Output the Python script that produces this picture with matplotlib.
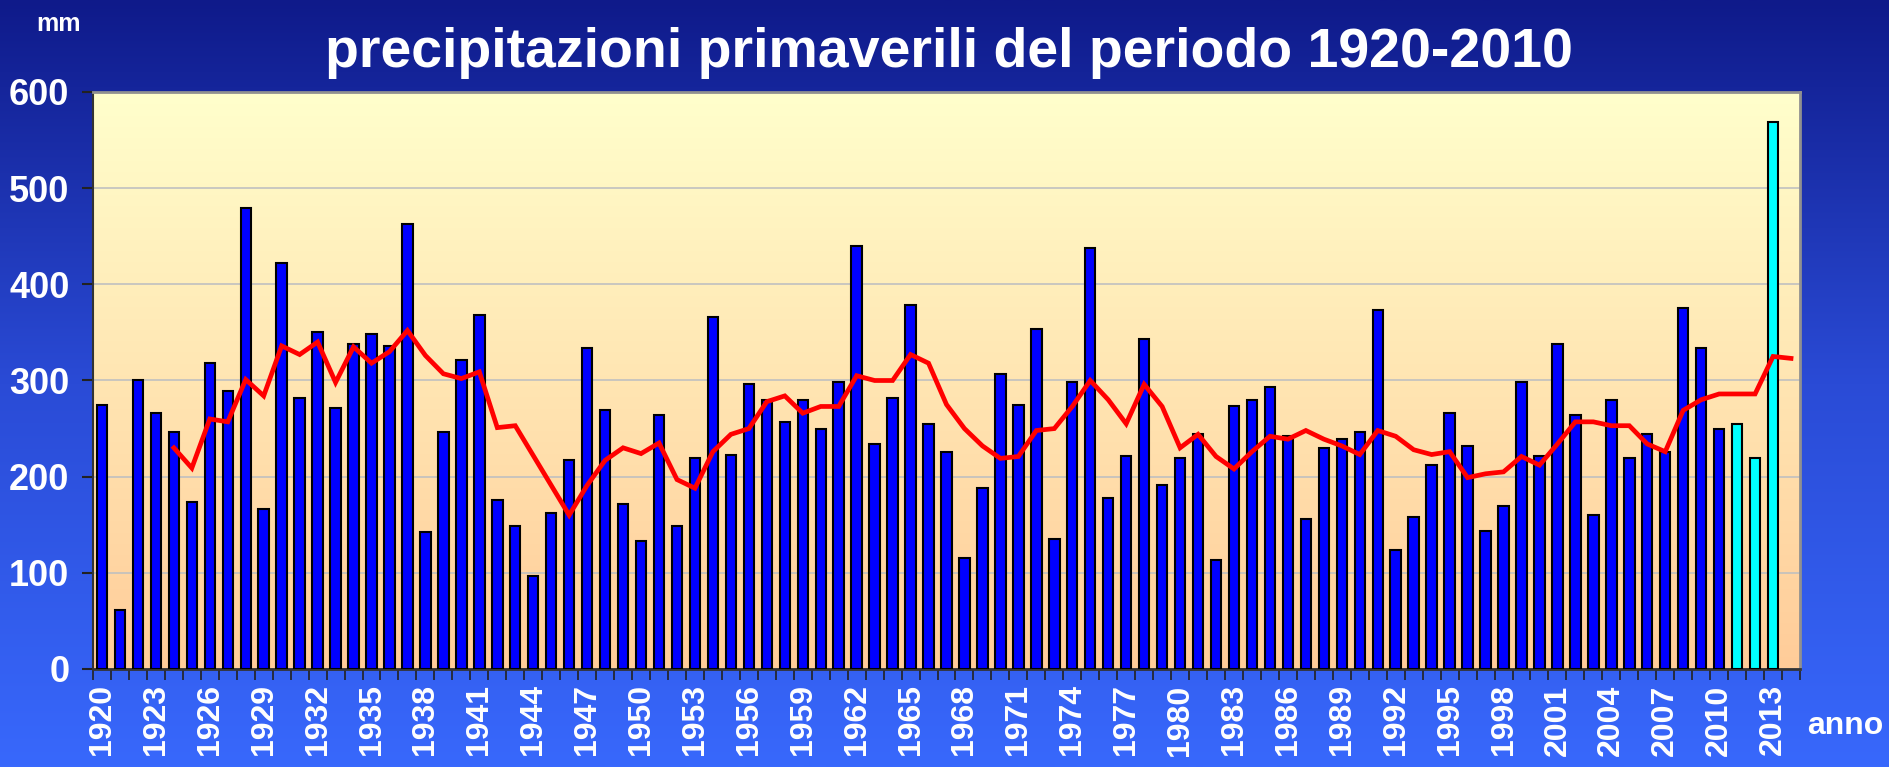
import numpy as np
import matplotlib
matplotlib.use("Agg")
import matplotlib.pyplot as plt
from matplotlib.colors import LinearSegmentedColormap

years = list(range(1920, 2015))
rain = [275, 61, 300, 266, 246, 174, 318, 289, 479, 166,
        422, 282, 350, 271, 338, 348, 336, 463, 142, 246,
        321, 368, 176, 149, 97, 162, 217, 334, 269, 172,
        133, 264, 149, 219, 366, 223, 296, 280, 257, 280,
        250, 298, 440, 234, 282, 379, 255, 226, 115, 188,
        307, 275, 354, 135, 298, 438, 178, 221, 343, 191,
        219, 244, 113, 273, 280, 293, 242, 156, 230, 239,
        246, 373, 124, 158, 212, 266, 232, 144, 169, 298,
        221, 338, 264, 160, 280, 219, 244, 226, 375, 334,
        250, 255, 219, 569, np.nan]
media_mobile = [np.nan, np.nan, np.nan, np.nan,
                230, 209, 260, 257, 301, 284, 336, 327, 340, 298, 335, 318,
                330, 352, 326, 307, 302, 309, 251, 253, 222, 191, 160, 191,
                217, 230, 224, 235, 197, 188, 226, 244, 250, 278, 284, 266,
                273, 273, 305, 300, 300, 327, 318, 275, 250, 232, 219, 221,
                248, 250, 273, 300, 280, 255, 296, 273, 230, 244, 221, 208,
                226, 242, 239, 248, 239, 232, 223, 248, 242, 228, 223, 226,
                199, 203, 205, 221, 212, 234, 257, 257, 253, 253, 234, 226,
                269, 280, 286, 286, 286, 325, 323]
yticks = [0, 100, 200, 300, 400, 500, 600]
xlabels = list(range(1920, 2014, 3))
title = "precipitazioni primaverili del periodo 1920-2010"

W, H = 1890, 767
fig = plt.figure(figsize=(W / 100, H / 100), dpi=100)

# figure background gradient
bg = fig.add_axes([0, 0, 1, 1], zorder=-10)
bg_cmap = LinearSegmentedColormap.from_list("bg", ["#0f1a8a", "#2a4bd6", "#3868fc"])
grad = np.linspace(0, 1, 256).reshape(-1, 1)
bg.imshow(grad, cmap=bg_cmap, aspect="auto", extent=[0, 1, 0, 1], origin="upper")
bg.set_axis_off()

ax = fig.add_axes([93 / W, 1 - 669 / H, (1800 - 93) / W, (669 - 92) / H])
pa_cmap = LinearSegmentedColormap.from_list("pa", ["#ffffcc", "#ffcc99"])
ax.imshow(grad, cmap=pa_cmap, aspect="auto", extent=[0, 1, 0, 1],
          origin="upper", transform=ax.transAxes, zorder=0)

x = np.arange(len(years))
colors = ["#00ffff" if y > 2010 else "#0000ff" for y in years]
ax.bar(x, rain, width=0.58, color=colors, edgecolor="black", linewidth=1.5, zorder=3)
ax.plot(x, media_mobile, color="#ff0000", linewidth=3.4, zorder=4,
        solid_joinstyle="miter")

ax.set_xlim(-0.5, len(years) - 0.5)
ax.set_ylim(0, 600)
ax.set_yticks(yticks)
ax.set_yticklabels([str(v) for v in yticks], fontsize=26, fontweight="bold",
                   color="white", family="Liberation Sans")
ax.yaxis.grid(True, color="#c0c0c0", linewidth=1.2, zorder=1)
ax.set_axisbelow(True)
ax.tick_params(axis="y", length=8, width=1.5, color="#222222", pad=9)

ax.set_xticks([years.index(y) for y in xlabels])
ax.set_xticklabels([str(y) for y in xlabels], rotation=90, fontsize=23,
                   fontweight="bold", color="white", family="Liberation Sans")
ax.tick_params(axis="x", which="major", length=0, pad=11)
ax.set_xticks(np.arange(-0.5, len(years), 1), minor=True)
ax.tick_params(axis="x", which="minor", length=8, width=1.2, color="#222222")

for side in ["top", "right"]:
    ax.spines[side].set_color("#909090")
    ax.spines[side].set_linewidth(2)
ax.spines["left"].set_color("#333333")
ax.spines["bottom"].set_color("#333333")
ax.spines["left"].set_linewidth(1.5)
ax.spines["bottom"].set_linewidth(2)

fig.text(949 / W, 1 - 53 / H, title, ha="center", va="center", fontsize=40,
         fontweight="bold", color="white", family="Liberation Sans")
fig.text(59 / W, 1 - 24 / H, "mm", ha="center", va="center", fontsize=18,
         fontweight="bold", color="white", family="Liberation Sans")
fig.text(1845 / W, 1 - 726 / H, "anno", ha="center", va="center", fontsize=23,
         fontweight="bold", color="white", family="Liberation Sans")

fig.savefig("out.png", dpi=100)
